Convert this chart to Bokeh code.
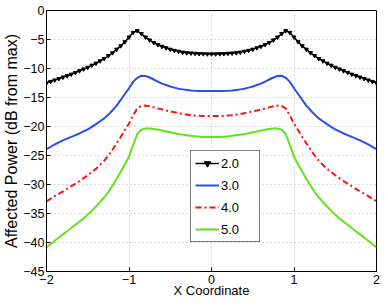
from bokeh.plotting import figure
from bokeh.models import Range1d, FixedTicker, Legend
from bokeh.embed import file_html
from bokeh.resources import INLINE

x = [-2.00, -1.95, -1.90, -1.85, -1.80, -1.75, -1.70, -1.65, -1.60, -1.55,
     -1.50, -1.45, -1.40, -1.35, -1.30, -1.25, -1.20, -1.15, -1.10, -1.05,
     -1.00, -0.95, -0.90, -0.85, -0.80, -0.75, -0.70, -0.65, -0.60, -0.55,
     -0.50, -0.45, -0.40, -0.35, -0.30, -0.25, -0.20, -0.15, -0.10, -0.05,
     0.00, 0.05, 0.10, 0.15, 0.20, 0.25, 0.30, 0.35, 0.40, 0.45,
     0.50, 0.55, 0.60, 0.65, 0.70, 0.75, 0.80, 0.85, 0.90, 0.95,
     1.00, 1.05, 1.10, 1.15, 1.20, 1.25, 1.30, 1.35, 1.40, 1.45,
     1.50, 1.55, 1.60, 1.65, 1.70, 1.75, 1.80, 1.85, 1.90, 1.95, 2.00]

s20 = [-12.5, -12.25, -12.0, -11.75, -11.5, -11.25, -11.0, -10.7, -10.4, -10.1,
       -9.8, -9.45, -9.1, -8.7, -8.3, -7.8, -7.3, -6.7, -6.1, -5.4,
       -4.6, -3.8, -3.5, -4.0, -4.6, -5.1, -5.55, -5.9, -6.2, -6.45,
       -6.7, -6.9, -7.05, -7.2, -7.3, -7.35, -7.4, -7.45, -7.47, -7.5,
       -7.5, -7.5, -7.47, -7.45, -7.4, -7.35, -7.3, -7.2, -7.05, -6.9,
       -6.7, -6.45, -6.2, -5.9, -5.55, -5.1, -4.6, -4.0, -3.5, -3.8,
       -4.6, -5.4, -6.1, -6.7, -7.3, -7.8, -8.3, -8.7, -9.1, -9.45,
       -9.8, -10.1, -10.4, -10.7, -11.0, -11.25, -11.5, -11.75, -12.0, -12.25, -12.5]

s30 = [-23.9, -23.5, -23.1, -22.75, -22.4, -22.1, -21.8, -21.5, -21.2, -20.85,
       -20.5, -20.05, -19.6, -19.1, -18.6, -17.95, -17.2, -16.4, -15.4, -14.4,
       -13.4, -12.3, -11.6, -11.25, -11.3, -11.55, -11.9, -12.25, -12.6, -12.85,
       -13.1, -13.3, -13.5, -13.6, -13.7, -13.8, -13.85, -13.88, -13.9, -13.9,
       -13.9, -13.9, -13.9, -13.88, -13.85, -13.8, -13.7, -13.6, -13.5, -13.3,
       -13.1, -12.85, -12.6, -12.25, -11.9, -11.55, -11.3, -11.25, -11.6, -12.3,
       -13.4, -14.4, -15.4, -16.4, -17.2, -17.95, -18.6, -19.1, -19.6, -20.05,
       -20.5, -20.85, -21.2, -21.5, -21.8, -22.1, -22.4, -22.75, -23.1, -23.5, -23.9]

s40 = [-32.9, -32.45, -32.0, -31.6, -31.2, -30.75, -30.3, -29.85, -29.4, -28.9,
       -28.4, -27.85, -27.3, -26.6, -25.9, -25.0, -24.0, -22.9, -21.8, -20.6,
       -19.5, -18.1, -16.9, -16.45, -16.4, -16.5, -16.7, -16.9, -17.05, -17.25,
       -17.4, -17.55, -17.7, -17.85, -17.95, -18.05, -18.1, -18.15, -18.2, -18.2,
       -18.2, -18.2, -18.2, -18.15, -18.1, -18.05, -17.95, -17.85, -17.7, -17.55,
       -17.4, -17.25, -17.05, -16.9, -16.7, -16.5, -16.4, -16.45, -16.9, -18.1,
       -19.5, -20.6, -21.8, -22.9, -24.0, -25.0, -25.9, -26.6, -27.3, -27.85,
       -28.4, -28.9, -29.4, -29.85, -30.3, -30.75, -31.2, -31.6, -32.0, -32.45, -32.9]

s50 = [-40.8, -40.25, -39.7, -39.15, -38.6, -38.05, -37.5, -36.95, -36.4, -35.8,
       -35.2, -34.5, -33.8, -33.0, -32.2, -31.3, -30.2, -29.0, -27.8, -26.5,
       -25.2, -23.2, -21.3, -20.55, -20.35, -20.35, -20.45, -20.55, -20.7, -20.85,
       -21.0, -21.15, -21.3, -21.4, -21.5, -21.6, -21.7, -21.75, -21.8, -21.8,
       -21.8, -21.8, -21.8, -21.75, -21.7, -21.6, -21.5, -21.4, -21.3, -21.15,
       -21.0, -20.85, -20.7, -20.55, -20.45, -20.35, -20.35, -20.55, -21.3, -23.2,
       -25.2, -26.5, -27.8, -29.0, -30.2, -31.3, -32.2, -33.0, -33.8, -34.5,
       -35.2, -35.8, -36.4, -36.95, -37.5, -38.05, -38.6, -39.15, -39.7, -40.25, -40.8]

x_ticks = [-2, -1, 0, 1, 2]
x_tick_labels = ["\u22122", "\u22121", "0", "1", "2"]
y_ticks = [0, -5, -10, -15, -20, -25, -30, -35, -40, -45]
y_tick_labels = ["0", "\u22125", "\u221210", "\u221215", "\u221220", "\u221225",
                 "\u221230", "\u221235", "\u221240", "\u221245"]
series_labels = ["2.0", "3.0", "4.0", "5.0"]

FONT = "Liberation Sans"

p = figure(width=380, height=300, output_backend="svg", toolbar_location=None,
           x_range=Range1d(-2, 2), y_range=Range1d(-45, 0),
           min_border_left=45, min_border_top=10, min_border_right=4, min_border_bottom=26)
p.background_fill_color = "white"
p.border_fill_color = "white"
p.outline_line_color = "black"
p.outline_line_width = 1

for ax, ticks, labels in ((p.xaxis[0], x_ticks, x_tick_labels), (p.yaxis[0], y_ticks, y_tick_labels)):
    ax.ticker = FixedTicker(ticks=ticks)
    ax.major_label_overrides = {t: l for t, l in zip(ticks, labels)}
    ax.major_tick_in = 4
    ax.major_tick_out = 0
    ax.minor_tick_in = 0
    ax.minor_tick_out = 0
    ax.major_label_text_font = FONT
    ax.major_label_text_font_size = "12.5px"
    ax.major_label_text_color = "black"
    ax.axis_label_text_font = FONT
    ax.axis_label_text_font_style = "normal"
    ax.axis_label_text_color = "black"
    ax.axis_line_color = "black"
    ax.major_tick_line_color = "black"

p.xaxis.axis_label_text_font_size = "13px"
p.yaxis.axis_label_text_font_size = "16px"
p.xaxis.major_label_standoff = 3
p.xaxis.axis_label_standoff = -4
p.yaxis.major_label_standoff = 2
p.yaxis.axis_label_standoff = 0

p.xaxis.axis_label = "X Coordinate"
p.yaxis.axis_label = "Affected Power (dB from max)"

for g in (p.xgrid[0], p.ygrid[0]):
    g.grid_line_color = "#b0b0b0"
    g.grid_line_dash = "1 3"
    g.grid_line_width = 1

r1 = p.line(x, s20, line_color="black", line_width=1.5)
r1m = p.scatter(x, s20, marker="inverted_triangle", size=4, fill_color="black", line_color="black")
r2 = p.line(x, s30, line_color="#2b50e8", line_width=2)
r3 = p.line(x, s40, line_color="#ff1010", line_width=2, line_dash="6 3 2 3")
r4 = p.line(x, s50, line_color="#5fe31a", line_width=2)

legend = Legend(items=[(series_labels[0], [r1, r1m]), (series_labels[1], [r2]),
                       (series_labels[2], [r3]), (series_labels[3], [r4])],
                location=(144, 29))
legend.label_text_font = FONT
legend.label_text_font_size = "13px"
legend.label_text_color = "black"
legend.glyph_width = 24
legend.glyph_height = 16
legend.spacing = 6
legend.padding = 4
legend.margin = 0
legend.label_standoff = 2
legend.label_width = 34
legend.border_line_color = "black"
legend.border_line_width = 1
legend.background_fill_color = "white"
legend.background_fill_alpha = 1
p.add_layout(legend, "center")

open("out.html", "w").write(file_html(p, INLINE))
